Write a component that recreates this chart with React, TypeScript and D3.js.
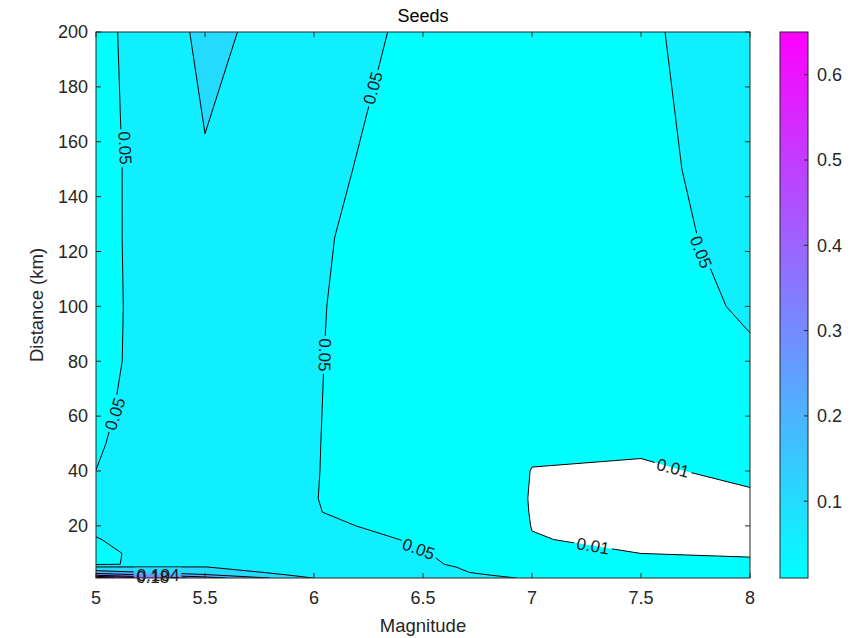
import React from 'react';
import * as d3 from 'd3';

// ---- data ----
const magnitudes = [5, 5.5, 6, 6.5, 7, 7.5, 8];
const distances = [1, 2, 3, 5, 6, 10, 15, 20, 25, 30, 40, 50, 60, 80, 100, 125, 150, 200];
// rows follow `distances`, columns follow `magnitudes`
const seedValues: number[][] = [
  [0.65, 0.35, 0.098, 0.08, 0.045, 0.035, 0.025],
  [0.40, 0.22, 0.066, 0.072, 0.037, 0.03, 0.02],
  [0.25, 0.15, 0.058, 0.065, 0.03, 0.025, 0.017],
  [0.102, 0.101, 0.062, 0.06, 0.027, 0.02, 0.0125],
  [0.045, 0.0675, 0.066, 0.056, 0.025, 0.018, 0.0115],
  [0.04, 0.082, 0.075, 0.052, 0.02, 0.0099, 0.0092],
  [0.048, 0.085, 0.07, 0.0445, 0.0105, 0.008, 0.008],
  [0.058, 0.08, 0.06, 0.034, 0.0097, 0.007, 0.0075],
  [0.056, 0.079, 0.0525, 0.02, 0.0097, 0.0072, 0.008],
  [0.055, 0.078, 0.0515, 0.0125, 0.0099, 0.0075, 0.009],
  [0.0501, 0.076, 0.052, 0.0156, 0.0099, 0.009, 0.0115],
  [0.0474, 0.076, 0.0522, 0.017, 0.0106, 0.0112, 0.016],
  [0.0449, 0.077, 0.0525, 0.018, 0.012, 0.015, 0.025],
  [0.0405, 0.08, 0.053, 0.02, 0.014, 0.025, 0.047],
  [0.039, 0.083, 0.054, 0.02, 0.016, 0.04, 0.0528],
  [0.038, 0.088, 0.0556, 0.026, 0.02, 0.042, 0.0574],
  [0.0354, 0.0963, 0.0605, 0.031, 0.025, 0.044, 0.06],
  [0.035, 0.1106, 0.075, 0.038, 0.03, 0.045, 0.0677],
];
const contourLevels = [0.01, 0.05, 0.1, 0.2, 0.3, 0.4, 0.5, 0.6];
const xTicks = [5, 5.5, 6, 6.5, 7, 7.5, 8];
const yTicks = [20, 40, 60, 80, 100, 120, 140, 160, 180, 200];
const colorTicks = [0.1, 0.2, 0.3, 0.4, 0.5, 0.6];
const labelTexts = ['0.05', '0.05', '0.05', '0.05', '0.05', '0.05', '0.01', '0.01', '0.104', '0.18'];
const labelMags = [5.133, 5.087, 6.27, 6.05, 7.775, 6.48, 7.647, 7.28, 5.285, 5.26];
const labelDists = [157.7, 60.8, 179.6, 82.3, 119.8, 11.6, 41.1, 12.7, 2.0, 1.2];
const labelAngles = [87, -72, -75, 91, 69, 20, 15, 10, 0, 0];
const titleText = 'Seeds';
const xLabel = 'Magnitude';
const yLabel = 'Distance (km)';

const FONT = '"Liberation Sans", Arial, Helvetica, sans-serif';
const AX = '#262626';

function interpIndex(arr: number[], g: number) {
  const i = Math.max(0, Math.min(arr.length - 1, g - 0.5));
  const i0 = Math.min(Math.floor(i), arr.length - 2);
  const f = i - i0;
  return arr[i0] + f * (arr[i0 + 1] - arr[i0]);
}

export default function App() {
  const W = 861, H = 638;
  const pl = 96, pr = 750, pt = 32, pb = 578;
  const cbL = 780, cbR = 808;
  const x = d3.scaleLinear().domain([5, 8]).range([pl, pr]);
  const y = d3.scaleLinear().domain([1, 200]).range([pb, pt]);
  const nx = magnitudes.length, ny = distances.length;
  const flat = seedValues.flat();
  const cmin = contourLevels[0];
  const cmax = d3.max(flat) as number;
  const cbScale = d3.scaleLinear().domain([cmin, cmax]).range([pb, pt]);
  const cool = (t: number) => {
    const c = Math.max(0, Math.min(1, t));
    return d3.rgb(Math.round(255 * c), Math.round(255 * (1 - c)), 255).formatHex();
  };
  const colorOf = (v: number) => cool((v - cmin) / (cmax - cmin));

  const contours = d3.contours().size([nx, ny]).thresholds(contourLevels)(flat);
  const proj = d3.geoTransform({
    point: function (px: number, py: number) {
      (this as any).stream.point(x(interpIndex(magnitudes, px)), y(interpIndex(distances, py)));
    },
  });
  const geoPath = d3.geoPath(proj as any);

  const eps = 1e-9;
  const linePaths: string[] = contours.map((c) => {
    let d = '';
    c.coordinates.forEach((poly) => {
      poly.forEach((ring) => {
        const pts = ring.map((p) => [interpIndex(magnitudes, p[0]), interpIndex(distances, p[1])]);
        let open = false;
        for (let i = 0; i < pts.length - 1; i++) {
          const a = pts[i], b = pts[i + 1];
          const sameEdge =
            (a[0] <= 5 + eps && b[0] <= 5 + eps) ||
            (a[0] >= 8 - eps && b[0] >= 8 - eps) ||
            (a[1] <= 1 + eps && b[1] <= 1 + eps) ||
            (a[1] >= 200 - eps && b[1] >= 200 - eps);
          if (sameEdge) { open = false; continue; }
          if (!open) { d += `M${x(a[0]).toFixed(2)},${y(a[1]).toFixed(2)}`; open = true; }
          d += `L${x(b[0]).toFixed(2)},${y(b[1]).toFixed(2)}`;
        }
      });
    });
    return d;
  });

  const labelFont = 17;
  const tickFont = 18;
  const labels = labelTexts.map((t, i) => ({
    text: t,
    px: x(labelMags[i]),
    py: y(labelDists[i]),
    angle: labelAngles[i],
    w: t.length * labelFont * 0.5 + 4,
  }));

  return (
    <svg width={W} height={H} style={{ position: 'absolute', left: 0, top: 0, background: '#fff' }} fontFamily={FONT}>
      <defs>
        <clipPath id="plotClip">
          <rect x={pl} y={pt} width={pr - pl} height={pb - pt} />
        </clipPath>
        <mask id="labelGaps" maskUnits="userSpaceOnUse" x={0} y={0} width={W} height={H}>
          <rect x={0} y={0} width={W} height={H} fill="#fff" />
          {labels.map((l, i) => (
            <rect key={i} x={-l.w / 2} y={-labelFont * 0.45} width={l.w} height={labelFont * 0.9} fill="#000"
              transform={`translate(${l.px},${l.py}) rotate(${l.angle})`} />
          ))}
        </mask>
        <linearGradient id="coolGrad" x1="0" y1="1" x2="0" y2="0">
          {d3.range(0, 1.0001, 0.05).map((t) => (
            <stop key={t} offset={`${t * 100}%`} stopColor={cool(t)} />
          ))}
        </linearGradient>
      </defs>

      <rect x={pl} y={pt} width={pr - pl} height={pb - pt} fill="#fff" />
      <g clipPath="url(#plotClip)">
        {contours.map((c, i) => (
          <path key={i} d={geoPath(c as any) || ''} fill={colorOf(c.value)} stroke="none" />
        ))}
        <g mask="url(#labelGaps)">
          {linePaths.map((d, i) => (
            <path key={i} d={d} fill="none" stroke="#000" strokeWidth={1} strokeLinejoin="round" />
          ))}
        </g>
      </g>
      {labels.map((l, i) => (
        <text key={i} transform={`translate(${l.px},${l.py}) rotate(${l.angle})`} textAnchor="middle"
          dy="0.35em" fontSize={labelFont} fill="#1a1a1a">{l.text}</text>
      ))}

      {/* axes box */}
      <rect x={pl} y={pt} width={pr - pl} height={pb - pt} fill="none" stroke={AX} strokeWidth={1} />
      {xTicks.map((t) => (
        <g key={t}>
          <line x1={x(t)} x2={x(t)} y1={pb} y2={pb - 5} stroke={AX} />
          <line x1={x(t)} x2={x(t)} y1={pt} y2={pt + 5} stroke={AX} />
          <text x={x(t)} y={604} textAnchor="middle" fontSize={tickFont} fill={AX}>{String(t)}</text>
        </g>
      ))}
      {yTicks.map((t) => (
        <g key={t}>
          <line x1={pl} x2={pl + 5} y1={y(t)} y2={y(t)} stroke={AX} />
          <line x1={pr} x2={pr - 5} y1={y(t)} y2={y(t)} stroke={AX} />
          <text x={88} y={y(t)} dy="0.35em" textAnchor="end" fontSize={tickFont} fill={AX}>{String(t)}</text>
        </g>
      ))}
      <text x={(pl + pr) / 2} y={22} textAnchor="middle" fontSize={18} fill="#000">{titleText}</text>
      <text x={(pl + pr) / 2} y={632} textAnchor="middle" fontSize={18.5} fill={AX}>{xLabel}</text>
      <text transform={`translate(43,${(pt + pb) / 2}) rotate(-90)`} textAnchor="middle" fontSize={18.5} fill={AX}>{yLabel}</text>

      {/* colorbar */}
      <rect x={cbL} y={pt} width={cbR - cbL} height={pb - pt} fill="url(#coolGrad)" stroke={AX} strokeWidth={1} />
      {colorTicks.map((t) => (
        <g key={t}>
          <line x1={cbR} x2={cbR - 4} y1={cbScale(t)} y2={cbScale(t)} stroke={AX} />
          <text x={817} y={cbScale(t)} dy="0.35em" fontSize={tickFont} fill={AX}>{String(t)}</text>
        </g>
      ))}
    </svg>
  );
}
